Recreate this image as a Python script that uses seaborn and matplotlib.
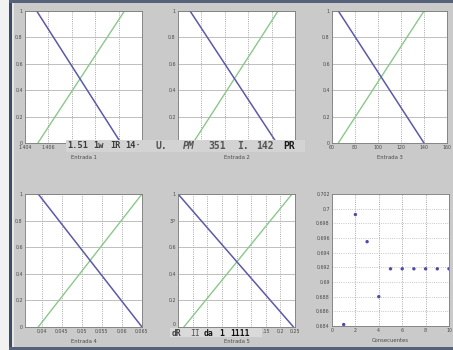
import matplotlib
matplotlib.use("Agg")
import matplotlib.pyplot as plt
import pandas as pd
import seaborn as sns
from matplotlib.patches import Rectangle

sns.set_style("white")
plt.rcParams["font.family"] = ["DejaVu Sans"]

# ---- membership functions: "bajo" falls 1 -> 0, "alto" rises 0 -> 1 ----
bajo_y = [1, 0]
alto_y = [0, 1]

e1_bajo_x = [1.4050, 1.4122]
e1_alto_x = [1.4051, 1.4125]
e1_ticks = [1.404, 1.406, 1.408, 1.410, 1.412, 1.414]
e1_ticklabels = ["1.404", "1.406", "", "", "", ""]

e2_bajo_x = [3.03, 10.44]
e2_alto_x = [3.28, 10.55]
e2_ticks = [2, 4, 6, 8, 10, 12]
e2_ticklabels = ["", "", "", "", "", ""]

e3_bajo_x = [65.5, 140.0]
e3_alto_x = [65.5, 140.0]
e3_ticks = [60, 80, 100, 120, 140, 160]
e3_ticklabels = ["60", "80", "100", "120", "140", "160"]

e4_bajo_x = [0.0391, 0.0650]
e4_alto_x = [0.0391, 0.0650]
e4_ticks = [0.040, 0.045, 0.050, 0.055, 0.060, 0.065]
e4_ticklabels = ["0.04", "0.045", "0.05", "0.055", "0.06", "0.065"]

e5_bajo_x = [-0.150, 0.245]
e5_alto_x = [-0.130, 0.240]
e5_ticks = [-0.15, -0.10, -0.05, 0.0, 0.05, 0.10, 0.15, 0.20, 0.25]
e5_ticklabels = ["", "", "", "", "", "", ".15", "0.2", "0.25"]

mf_yticks = [0, 0.2, 0.4, 0.6, 0.8, 1]
mf_yticklabels = ["0", "0.2", "0.4", "0.6", "0.8", "1"]
e5_yticklabels = ["0", "0.2", "0.4", "0.6", "3P", "1"]

# ---- consequents ----
cons_x = [1, 2, 3, 4, 5, 6, 7, 8, 9, 10]
cons_y = [0.6842, 0.6992, 0.6955, 0.6880, 0.6918, 0.6918, 0.6918, 0.6918, 0.6918, 0.6918]
cons_xticks = [0, 2, 4, 6, 8, 10]
cons_yticks = [0.684, 0.686, 0.688, 0.690, 0.692, 0.694, 0.696, 0.698, 0.700, 0.702]
cons_yticklabels = ["0.684", "0.686", "0.688", "0.69", "0.692", "0.694",
                    "0.696", "0.698", "0.7", "0.702"]

W, H = 453, 350
BG = "#cacaca"
BLUE = "#5a5aaa"
GREEN = "#8ac88a"

fig = plt.figure(figsize=(W / 100, H / 100), dpi=100)
fig.patch.set_facecolor(BG)


def px_axes(x0, y0, x1, y1):
    return fig.add_axes([x0 / W, 1 - y1 / H, (x1 - x0) / W, (y1 - y0) / H])


def style(ax, xticks, xticklabels, yticks, yticklabels, xlabel, xlim, ylim,
          hdash="-", label_y=-0.11):
    ax.set_facecolor("white")
    ax.set_xlim(*xlim)
    ax.set_ylim(*ylim)
    ax.set_xticks(xticks)
    ax.set_xticklabels(xticklabels)
    ax.set_yticks(yticks)
    ax.set_yticklabels(yticklabels)
    ax.grid(True, axis="x", ls=":", color="#8a8a8a", lw=0.6)
    ax.grid(True, axis="y", ls=hdash, color="#b4b4b4", lw=0.6)
    ax.set_axisbelow(True)
    for s in ax.spines.values():
        s.set_color("#7a7a7a")
        s.set_linewidth(0.6)
    ax.tick_params(direction="in", length=2, width=0.5, labelsize=3.4,
                   pad=1.6, color="#7a7a7a", labelcolor="#4a4a4a")
    ax.set_xlabel(xlabel, fontsize=3.8, color="#4a4a4a", va="center")
    ax.xaxis.set_label_coords(0.5, label_y)
    ax.set_ylabel("")


def mf_panel(box, bajo_x, alto_x, xticks, xticklabels, xlim, xlabel,
             yticklabels):
    ax = px_axes(*box)
    d_bajo = pd.DataFrame({"x": bajo_x, "y": bajo_y})
    d_alto = pd.DataFrame({"x": alto_x, "y": alto_y})
    sns.lineplot(data=d_alto, x="x", y="y", ax=ax, color=GREEN, lw=1.0,
                 estimator=None, sort=False)
    sns.lineplot(data=d_bajo, x="x", y="y", ax=ax, color=BLUE, lw=1.1,
                 estimator=None, sort=False)
    style(ax, xticks, xticklabels, mf_yticks, yticklabels, xlabel, xlim, (0, 1))
    return ax


mf_panel((25, 11, 142, 143), e1_bajo_x, e1_alto_x, e1_ticks, e1_ticklabels,
         (1.404, 1.414), "Entrada 1", mf_yticklabels)
mf_panel((178, 11, 295, 143), e2_bajo_x, e2_alto_x, e2_ticks, e2_ticklabels,
         (2, 12), "Entrada 2", mf_yticklabels)
mf_panel((332, 11, 447, 143), e3_bajo_x, e3_alto_x, e3_ticks, e3_ticklabels,
         (60, 160), "Entrada 3", mf_yticklabels)
mf_panel((25, 194, 142, 327), e4_bajo_x, e4_alto_x, e4_ticks, e4_ticklabels,
         (0.0358, 0.065), "Entrada 4", mf_yticklabels)
ax5 = mf_panel((178, 194, 295, 327), e5_bajo_x, e5_alto_x, e5_ticks,
               e5_ticklabels, (-0.15, 0.25), "Entrada 5", e5_yticklabels)
# lift the lowest y label so it sits clear of the caption below the panel
ax5.get_yticklabels()[0].set_verticalalignment("bottom")

ax6 = px_axes(332, 194, 449, 326)
d_cons = pd.DataFrame({"n": cons_x, "v": cons_y})
sns.scatterplot(data=d_cons, x="n", y="v", ax=ax6, color="#4c4ca8", s=6,
                marker="o", edgecolor="none")
style(ax6, cons_xticks, [str(t) for t in cons_xticks], cons_yticks,
      cons_yticklabels, "Consecuentes", (0, 10), (0.684, 0.702), hdash=":")


# ---- window frame ----
def fig_rect(x0, y0, x1, y1, color, z=5):
    fig.patches.append(Rectangle((x0 / W, 1 - y1 / H), (x1 - x0) / W,
                                 (y1 - y0) / H, transform=fig.transFigure,
                                 fc=color, ec="none", zorder=z))


fig_rect(0, 0, 9, H, "#f2f2f2")
fig_rect(9, 0, 12, H, "#3e4c68")
fig_rect(12, 0, 13.5, H, "#e6e6e6")
fig_rect(9, 0, W, 2.5, "#56627a")
fig_rect(9, 347, W, H, "#56627a")

# ---- caption bands over the tick rows ----
fig_rect(66, 140, 305, 152, "#d3d3d3")
fig_rect(170, 328, 262, 337, "#dadada")


def tok(x, y, s, color="#3c3c3c", size=6.2, style="normal", weight="bold"):
    fig.text(x / W, 1 - y / H, s, fontsize=size, family="DejaVu Sans Mono",
             weight=weight, style=style, color=color, ha="left", va="center",
             zorder=6)


tok(67, 146, "1.51")
tok(93, 146, "1w")
tok(110, 146, "IR")
tok(125, 146, "14·")

tok(156, 146, "U.", color="#555555", size=7.0)
tok(183, 146, "PM", color="#555555", size=7.0, style="italic")
tok(208, 146, "351", color="#555555", size=7.0)
tok(237, 146, "I.", color="#555555", size=7.0)
tok(256, 146, "142", color="#555555", size=7.0)
tok(283, 146, "PR", color="#1a1a1a", size=7.0)

tok(172, 333, "dR", color="#404040", size=5.8)
tok(190, 333, "II", color="#555555", size=5.8, weight="normal")
tok(204, 333, "da", color="#111111", size=5.8)
tok(219, 333, "1", color="#111111", size=5.8)
tok(230, 333, "1111", color="#111111", size=5.8)

fig.savefig("out.png", dpi=100, facecolor=fig.get_facecolor())
